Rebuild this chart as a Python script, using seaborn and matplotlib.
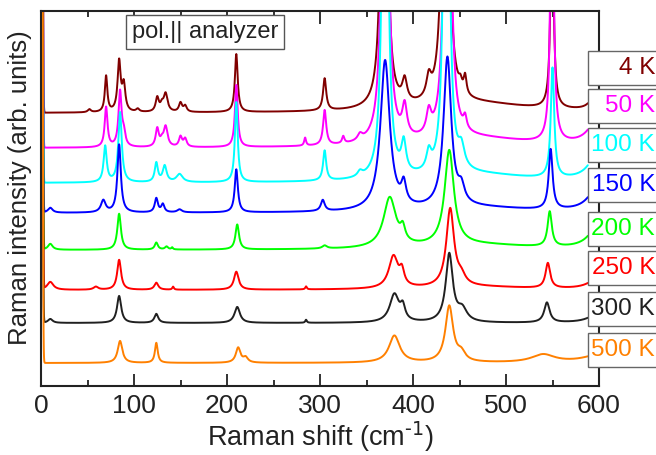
import numpy as np
import pandas as pd
import matplotlib.pyplot as plt
import seaborn as sns
from matplotlib.patches import Rectangle
from matplotlib.ticker import MultipleLocator

# Temperatures, colours and vertical offsets of the stacked spectra
temps = ["4 K", "50 K", "100 K", "150 K", "200 K", "250 K", "300 K", "500 K"]
colors = ["#800000", "#ff00ff", "#00ffff", "#0000ff", "#00ff00", "#ff0000", "#202020", "#ff8000"]
baselines = [273, 238, 203, 173, 136, 96, 63, 23]

# Raman modes: (shift cm-1, height, half width)
peaks_4K = [(52, 3, 2), (70, 36, 1.6), (84, 50, 2), (89, 26, 2), (104, 3, 2),
            (125, 14, 2), (130, 6, 2), (134, 18, 2.5), (150, 9, 2), (155, 6, 2),
            (210, 58, 1.8), (305, 32, 2), (369, 690, 2.5), (391, 22, 3),
            (417, 20, 3), (435, 580, 3), (451, 8, 2), (456, 18, 1.8),
            (549.5, 220, 1.8), (470, 9, 70), (598, 25, 6)]
peaks_50K = [(70, 40, 1.8), (85, 55, 2), (89, 12, 2), (125, 18, 2), (130, 5, 2),
             (134, 20, 2.5), (150, 10, 2), (155, 8, 2), (210, 62, 1.8), (284, 8, 1.2),
             (305, 35, 2), (325, 7, 1.5), (343, 6, 3), (370, 800, 2.5), (391, 30, 3),
             (417, 22, 3), (437, 800, 2.5), (456, 12, 2), (549.5, 350, 1.8),
             (470, 9, 70), (600, 30, 12)]
peaks_100K = [(69, 36, 2), (85, 70, 2.2), (124, 19, 2), (133, 16, 2.5), (149, 8, 4),
              (210, 80, 1.8), (305, 30, 2), (343, 5, 3), (370, 700, 2.5), (390, 30, 3),
              (417, 18, 3), (436, 700, 2.5), (452, 20, 4), (550, 110, 2.2),
              (470, 8, 70), (600, 30, 12)]
peaks_150K = [(10, 5, 3), (67, 12, 3), (84, 68, 2.2), (124, 14, 2), (131, 8, 2),
              (149, 3, 3), (210, 43, 2), (303, 11, 2.5), (370, 150, 6), (390, 20, 3),
              (437, 150, 5), (452, 15, 4), (548, 60, 2.5), (470, 5, 70), (600, 28, 12)]
peaks_200K = [(10, 6, 3), (84, 36, 2.3), (124, 7, 2), (135, 3, 2), (141, 2, 1),
              (211, 25, 2.3), (305, 3, 3), (375, 50, 8), (389, 13, 3), (439, 95, 6),
              (547, 35, 2.7), (470, 5, 70), (600, 25, 12)]
peaks_250K = [(10, 8, 4), (59, 3, 3), (84, 30, 2.5), (124, 7, 2.5), (142, 3, 1),
              (210, 18, 3), (285, 3, 1), (379, 32, 6), (388, 14, 3), (440, 78, 5),
              (452, 8, 5), (545, 25, 3), (470, 3, 70), (600, 12, 12)]
peaks_300K = [(10, 4, 3), (84, 27, 2.7), (124, 9, 2.5), (211, 16, 3.5), (285, 3, 1),
              (380, 28, 6), (389, 13, 3), (439, 68, 4.5), (453, 12, 6), (544, 20, 3.5),
              (600, 10, 12)]
peaks_500K = [(85, 22, 3), (124, 20, 1.8), (212, 15, 3), (220, 5, 3), (380, 27, 7),
              (439, 56, 5), (452, 8, 5), (540, 8, 15), (600, 8, 20)]
peak_sets = [peaks_4K, peaks_50K, peaks_100K, peaks_150K,
             peaks_200K, peaks_250K, peaks_300K, peaks_500K]

# Rayleigh line at the origin
laser_height = 3000
laser_width = 1.3

shift = np.arange(0, 588.25, 0.25)


def spectrum(base, peaks):
    y = np.full(shift.shape, float(base))
    y += laser_height * np.exp(-(shift / laser_width) ** 2)
    for pos, h, w in peaks:
        y += h * w ** 2 / ((shift - pos) ** 2 + w ** 2)
    return y


frames = []
for t, b, p in zip(temps, baselines, peak_sets):
    frames.append(pd.DataFrame({"shift": shift, "intensity": spectrum(b, p), "T": t}))
df = pd.concat(frames, ignore_index=True)

sns.set_theme(style="ticks")
plt.rcParams["font.family"] = ["Liberation Sans", "DejaVu Sans"]
plt.rcParams["mathtext.default"] = "regular"

fig = plt.figure(figsize=(6.56, 4.55), dpi=100)
ax = fig.add_axes([41 / 656, 1 - 386 / 455, 558 / 656, 375 / 455])

sns.lineplot(data=df, x="shift", y="intensity", hue="T", hue_order=temps,
             palette=colors, estimator=None, errorbar=None, sort=False,
             linewidth=1.4, legend=False, ax=ax)

ax.set_xlim(0, 600)
ax.set_ylim(0, 375)
ax.xaxis.set_major_locator(MultipleLocator(100))
ax.xaxis.set_minor_locator(MultipleLocator(50))
ax.set_yticks([])
ax.tick_params(axis="x", which="both", direction="in", top=True, colors="#222222",
               labelsize=19, pad=6)
ax.tick_params(axis="x", which="major", length=9, width=1.3)
ax.tick_params(axis="x", which="minor", length=4.5, width=1.3)
for s in ax.spines.values():
    s.set_linewidth(1.5)
    s.set_color("#222222")

ax.set_xlabel(r"Raman shift (cm$^{\text{-1}}$)", fontsize=19.5, color="#222222", labelpad=1)
ax.set_ylabel("Raman intensity (arb. units)", fontsize=18.5, color="#222222")
ax.yaxis.set_label_coords(-0.016, 0.53)

ax.text(0.294, 0.944, "pol.|| analyzer", transform=ax.transAxes, ha="center",
        va="center", fontsize=17, color="#222222",
        bbox=dict(boxstyle="square,pad=0.25", fc="white", ec="#555555", lw=1))

# temperature tags outside the right edge
box_tops = [51, 89, 128, 168, 212, 251, 292, 333]
for t, c, top in zip(temps, colors, box_tops):
    fig.add_artist(Rectangle((588 / 656, 1 - (top + 34) / 455), 100 / 656, 34 / 455,
                             transform=fig.transFigure, fc="white", ec="#666666",
                             lw=1, zorder=5))
    fig.text(655 / 656, 1 - (top + 17) / 455, t, ha="right", va="center",
             fontsize=17.5, color=c, zorder=6)

fig.savefig("out.png", dpi=100)
